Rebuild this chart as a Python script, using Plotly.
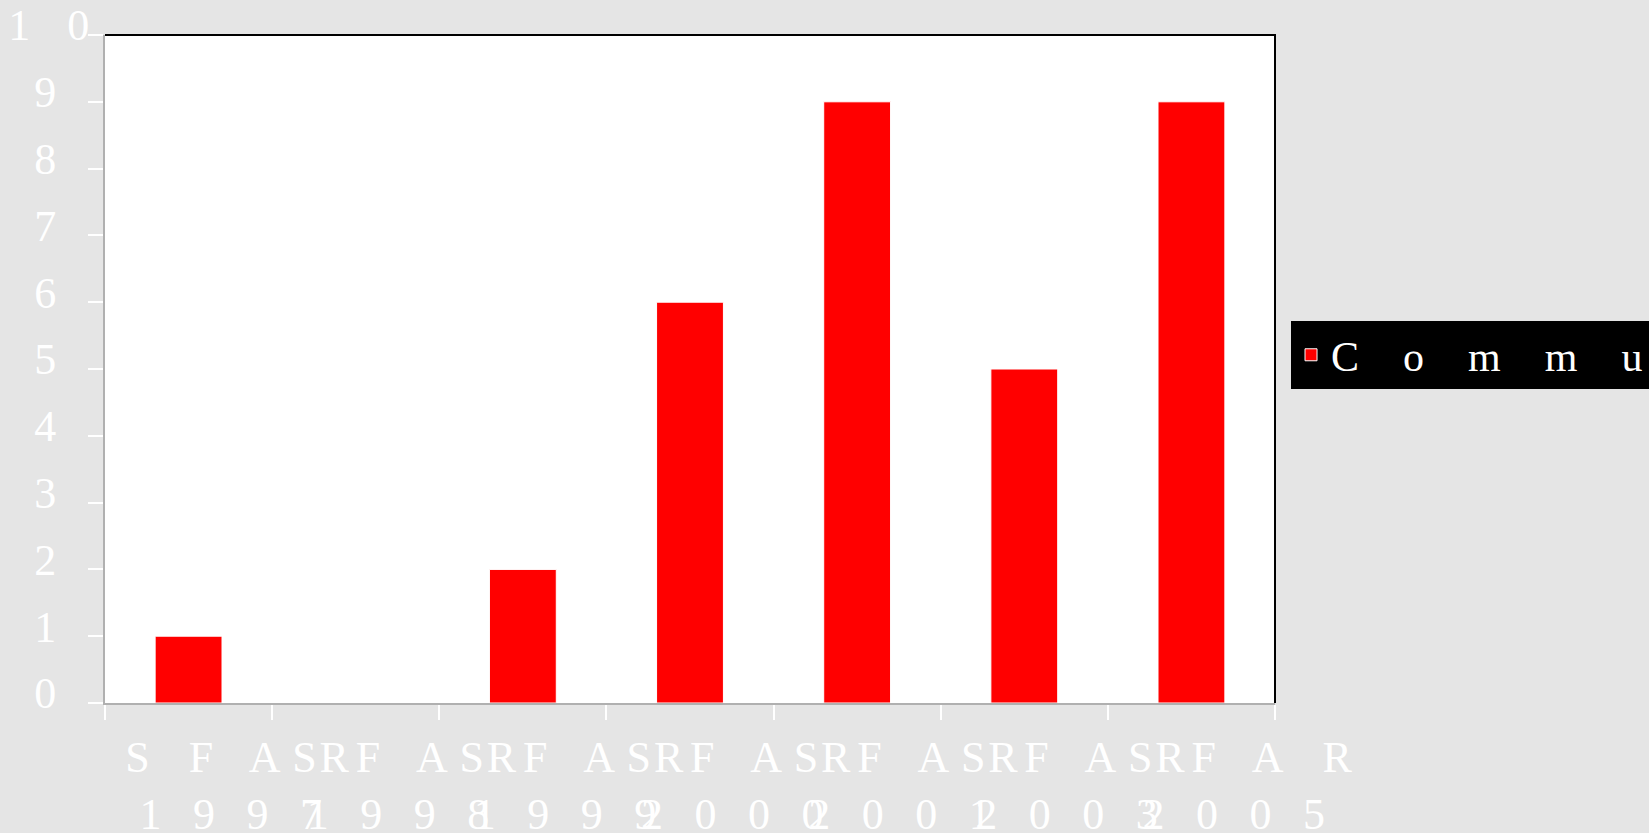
import plotly.graph_objects as go

# Yearly counts for the single series
series_name = "Community"
label_prefix = "SFAR"
years = ["1997", "1998", "1999", "2000", "2001", "2003", "2005"]
counts = [1, 0, 2, 6, 9, 5, 9]
y_tick_values = [0, 1, 2, 3, 4, 5, 6, 7, 8, 9, 10]

FONT = "Liberation Serif, Times New Roman, serif"
TEXT_SIZE = 44


def spaced(text, px):
    """Wrap text in a span with extra tracking between glyphs."""
    return f'<span style="letter-spacing:{px}px">{text}</span>'


def tracked(text, px, last_px):
    """Wide tracking, with a separate amount after the final glyph."""
    return spaced(text[:-1], px) + spaced(text[-1], last_px)


def y_label(value):
    s = str(value)
    if len(s) == 1:
        return spaced(s, 11)
    return tracked(s, 37, -22)


categories = [f"{label_prefix} {y}" for y in years]
x_ticktext = [tracked(label_prefix, 39, 19) + "<br>" + spaced(y, 31.5) for y in years]
y_ticktext = [y_label(v) for v in y_tick_values]

fig = go.Figure()
fig.add_trace(
    go.Bar(
        x=categories,
        y=counts,
        name=spaced(series_name, 44),
        marker=dict(color="#ff0000", line=dict(color="white", width=1)),
        showlegend=True,
    )
)

tick_font = dict(family=FONT, size=TEXT_SIZE, color="white")

fig.update_layout(
    width=1649,
    height=833,
    paper_bgcolor="#e5e5e5",
    plot_bgcolor="white",
    margin=dict(l=105, r=374, t=35, b=130, autoexpand=False),
    bargap=0.6,
    showlegend=True,
    legend=dict(
        x=1.0137,
        y=0.521,
        xanchor="left",
        yanchor="middle",
        bgcolor="black",
        borderwidth=0,
        font=dict(family=FONT, size=42, color="white"),
    ),
    xaxis=dict(
        type="category",
        tickmode="array",
        tickvals=categories,
        ticktext=x_ticktext,
        tickangle=0,
        tickson="boundaries",
        ticks="outside",
        ticklen=15,
        tickwidth=1.5,
        tickcolor="white",
        showline=True,
        linecolor="#b0b0b0",
        linewidth=2,
        showgrid=False,
        tickfont=tick_font,
        ticklabelshift=58,
        ticklabelstandoff=14,
        layer="below traces",
        automargin=False,
    ),
    yaxis=dict(
        range=[0, 10],
        tickmode="array",
        tickvals=y_tick_values,
        ticktext=y_ticktext,
        ticks="outside",
        ticklen=15,
        tickwidth=1.5,
        tickcolor="white",
        showline=True,
        linecolor="#b0b0b0",
        linewidth=2,
        showgrid=False,
        zeroline=False,
        tickfont=tick_font,
        ticklabelshift=-10,
        ticklabelstandoff=12,
        layer="below traces",
        automargin=False,
    ),
    shapes=[
        dict(
            type="path",
            xref="paper",
            yref="paper",
            path="M0,1 L1,1 L1,0",
            line=dict(color="black", width=2),
        )
    ],
)

fig.write_html("out.html")
